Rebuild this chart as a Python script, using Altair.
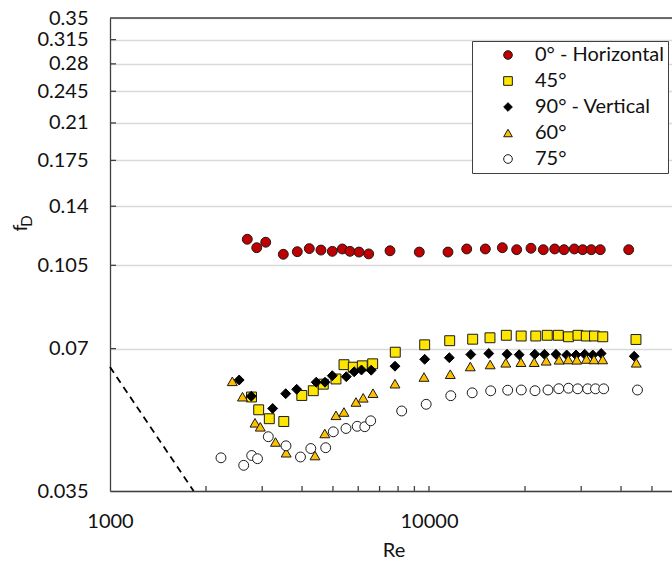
import altair as alt
import pandas as pd

# ---------------- data ----------------
series_names = ["0° - Horizontal", "45°", "90° - Vertical", "60°", "75°"]
series_shapes = ["circle", "square", "diamond", "triangle-up", "circle"]
series_fills = ["#C00000", "#FFE600", "#000000", "#FFC000", "#FFFFFF"]
series_strokes = ["#1A1A1A", "#1A1A1A", "#000000", "#1A1A1A", "#1A1A1A"]

re_0 = [2694, 2884, 3077, 3494, 3865, 4215, 4585, 4976, 5350, 5653, 6034, 6471,
        7547, 9324, 11470, 13130, 15020, 16980, 18830, 20880, 22820, 24780,
        26500, 28550, 30330, 32270, 34430, 42270]
f_0 = [0.1192, 0.1144, 0.1175, 0.1108, 0.1122, 0.1139, 0.1131, 0.1124, 0.1137,
       0.1124, 0.1120, 0.1110, 0.1127, 0.1120, 0.1120, 0.1137, 0.1137, 0.1144,
       0.1133, 0.1141, 0.1133, 0.1137, 0.1133, 0.1137, 0.1133, 0.1133, 0.1133,
       0.1133]

re_45 = [2777, 2925, 3158, 3506, 3993, 4338, 4663, 5110, 5414, 5790, 6179, 6660,
         7841, 9694, 11612, 13708, 15533, 17474, 19454, 21618, 23487, 25427,
         27372, 29314, 31122, 33023, 35060, 44556]
f_45 = [0.05531, 0.05197, 0.04976, 0.04909, 0.05572, 0.05703, 0.05887, 0.06038,
        0.06473, 0.06395, 0.06438, 0.06501, 0.06879, 0.07131, 0.07275, 0.07328,
        0.07379, 0.07469, 0.07443, 0.07443, 0.07469, 0.07469, 0.07415, 0.07469,
        0.07443, 0.07443, 0.07415, 0.07318]

re_90 = [2541, 2773, 3236, 3555, 3848, 4430, 4721, 4976, 5505, 5828, 6143, 6589,
         7824, 9694, 11578, 13522, 15398, 17560, 19176, 21461, 23018, 25011,
         27018, 28895, 30768, 32620, 34659, 43980]
f_90 = [0.06008, 0.05553, 0.05230, 0.05621, 0.05742, 0.05944, 0.05944, 0.06135,
        0.06106, 0.06253, 0.06308, 0.06302, 0.06426, 0.06645, 0.06697, 0.06802,
        0.06836, 0.06812, 0.06796, 0.06812, 0.06809, 0.06809, 0.06786, 0.06786,
        0.06809, 0.06786, 0.06836, 0.06743]

re_60 = [2418, 2602, 2848, 2959, 3302, 3567, 4392, 4714, 5110, 5414, 5904, 6219,
         6675, 7824, 9646, 11662, 13473, 15554, 17410, 19427, 21369, 23302,
         25595, 27333, 29062, 31169, 32904, 35036, 44652]
f_60 = [0.05970, 0.05539, 0.04878, 0.04784, 0.04443, 0.04217, 0.04160, 0.04631,
        0.05059, 0.05141, 0.05398, 0.05509, 0.05634, 0.05901, 0.06096, 0.06180,
        0.06416, 0.06479, 0.06533, 0.06552, 0.06552, 0.06597, 0.06629, 0.06639,
        0.06629, 0.06655, 0.06639, 0.06639, 0.06533]

re_75 = [2228, 2625, 2781, 2900, 3135, 3562, 3955, 4261, 4744, 5012, 5493, 5956,
         6291, 6565, 8211, 9800, 11704, 13659, 15611, 17649, 19469, 21492,
         23607, 25521, 27372, 29251, 31440, 33261, 35290, 45041]
f_75 = [0.04114, 0.03966, 0.04160, 0.04096, 0.04559, 0.04361, 0.04130, 0.04304,
        0.04321, 0.04669, 0.04745, 0.04796, 0.04786, 0.04926, 0.05167, 0.05338,
        0.05566, 0.05645, 0.05700, 0.05717, 0.05723, 0.05703, 0.05723, 0.05759,
        0.05773, 0.05756, 0.05756, 0.05756, 0.05756, 0.05723]

# laminar reference line (dashed)
re_lam = [1000, 1829]
f_lam = [0.064, 0.035]

x_label_values = [1000, 10000]
x_minor_ticks = [2000, 3000, 4000, 5000, 6000, 7000, 8000, 9000, 10000,
                 20000, 30000, 40000, 50000]
y_tick_values = [0.035, 0.07, 0.105, 0.14, 0.175, 0.21, 0.245, 0.28, 0.315, 0.35]
x_domain = [1000, 57786]
y_domain = [0.035, 0.35]

# ---------------- build tables ----------------
all_re = [re_0, re_45, re_90, re_60, re_75]
all_f = [f_0, f_45, f_90, f_60, f_75]
rows = []
for name, rs, fs in zip(series_names, all_re, all_f):
    for r, f in zip(rs, fs):
        rows.append({"Re": r, "f": f, "series": name})
df = pd.DataFrame(rows)
lam_df = pd.DataFrame({"Re": re_lam, "f": f_lam})

W, H = 562, 473
FONT = "Lato"
AXC = "#404040"
TXT = "#111111"

xscale = alt.Scale(type="log", domain=x_domain, nice=False)
yscale = alt.Scale(type="log", domain=y_domain, nice=False)

xaxis = alt.Axis(values=x_label_values, format="d", ticks=False, tickSize=0,
                 grid=False, domainColor=AXC, domainWidth=1.3,
                 labelFont=FONT, labelFontSize=20, labelColor=TXT,
                 labelPadding=30, labelBaseline="middle", labelFlush=False,
                 labelOverlap=False, title=None)
yaxis = alt.Axis(values=y_tick_values, format="~g", ticks=False, tickSize=0,
                 grid=True, gridColor="#D9D9D9", gridWidth=1.3,
                 domainColor=AXC, domainWidth=1.3,
                 labelFont=FONT, labelFontSize=20, labelColor=TXT,
                 labelPadding=22, labelOverlap=False, title=None)

X = alt.X("Re:Q", scale=xscale, axis=xaxis)
Y = alt.Y("f:Q", scale=yscale, axis=yaxis)

legend = alt.Legend(title=None, orient="none", legendX=362, legendY=23,
                    padding=4, fillColor="white", strokeColor=AXC,
                    cornerRadius=0, labelFont=FONT, labelFontSize=20,
                    labelColor=TXT, symbolSize=75, symbolStrokeWidth=1,
                    symbolOffset=22, labelOffset=17, rowPadding=6)

points = alt.Chart(df).mark_point(filled=True, opacity=1, size=98,
                                  strokeWidth=1).encode(
    x=X,
    y=Y,
    shape=alt.Shape("series:N", scale=alt.Scale(domain=series_names, range=series_shapes), legend=legend),
    fill=alt.Fill("series:N", scale=alt.Scale(domain=series_names, range=series_fills), legend=legend),
    stroke=alt.Stroke("series:N", scale=alt.Scale(domain=series_names, range=series_strokes), legend=legend),
)

lam = alt.Chart(lam_df).mark_line(color="black", strokeDash=[7, 5],
                                  strokeWidth=1.8).encode(x=X, y=Y)

xt = alt.Chart(pd.DataFrame({"Re": x_minor_ticks})).mark_rule(
    color=AXC, strokeWidth=1.3).encode(x=X, y=alt.value(H - 5), y2=alt.value(H))
yt = alt.Chart(pd.DataFrame({"f": y_tick_values[1:-1]})).mark_rule(
    color=AXC, strokeWidth=1.3).encode(y=Y, x=alt.value(0), x2=alt.value(6))

top_border = alt.Chart(alt.Data(values=[{"k": 1}])).mark_rule(
    color=AXC, strokeWidth=1.3).encode(x=alt.value(0), x2=alt.value(W), y=alt.value(0))

re_title = alt.Chart(alt.Data(values=[{"t": "Re"}])).mark_text(
    font=FONT, fontSize=20, color=TXT, align="center", baseline="middle").encode(
    text="t:N", x=alt.value(284), y=alt.value(533))
f_title = alt.Chart(alt.Data(values=[{"t": "f"}])).mark_text(
    font=FONT, fontSize=20, color=TXT, align="center", baseline="alphabetic",
    angle=270).encode(text="t:N", x=alt.value(-83), y=alt.value(210))
d_title = alt.Chart(alt.Data(values=[{"t": "D"}])).mark_text(
    font=FONT, fontSize=15, color=TXT, align="center", baseline="alphabetic",
    angle=270).encode(text="t:N", x=alt.value(-78), y=alt.value(203))

chart = alt.layer(lam, xt, yt, top_border, points, re_title, f_title, d_title).properties(
    width=W, height=H,
    padding={"left": 110, "top": 18, "right": 0, "bottom": 71},
    autosize=alt.AutoSizeParams(type="none"),
    background="white",
).configure_view(strokeWidth=0)

chart.save("out.html", embed_options={"renderer": "svg", "actions": False})
